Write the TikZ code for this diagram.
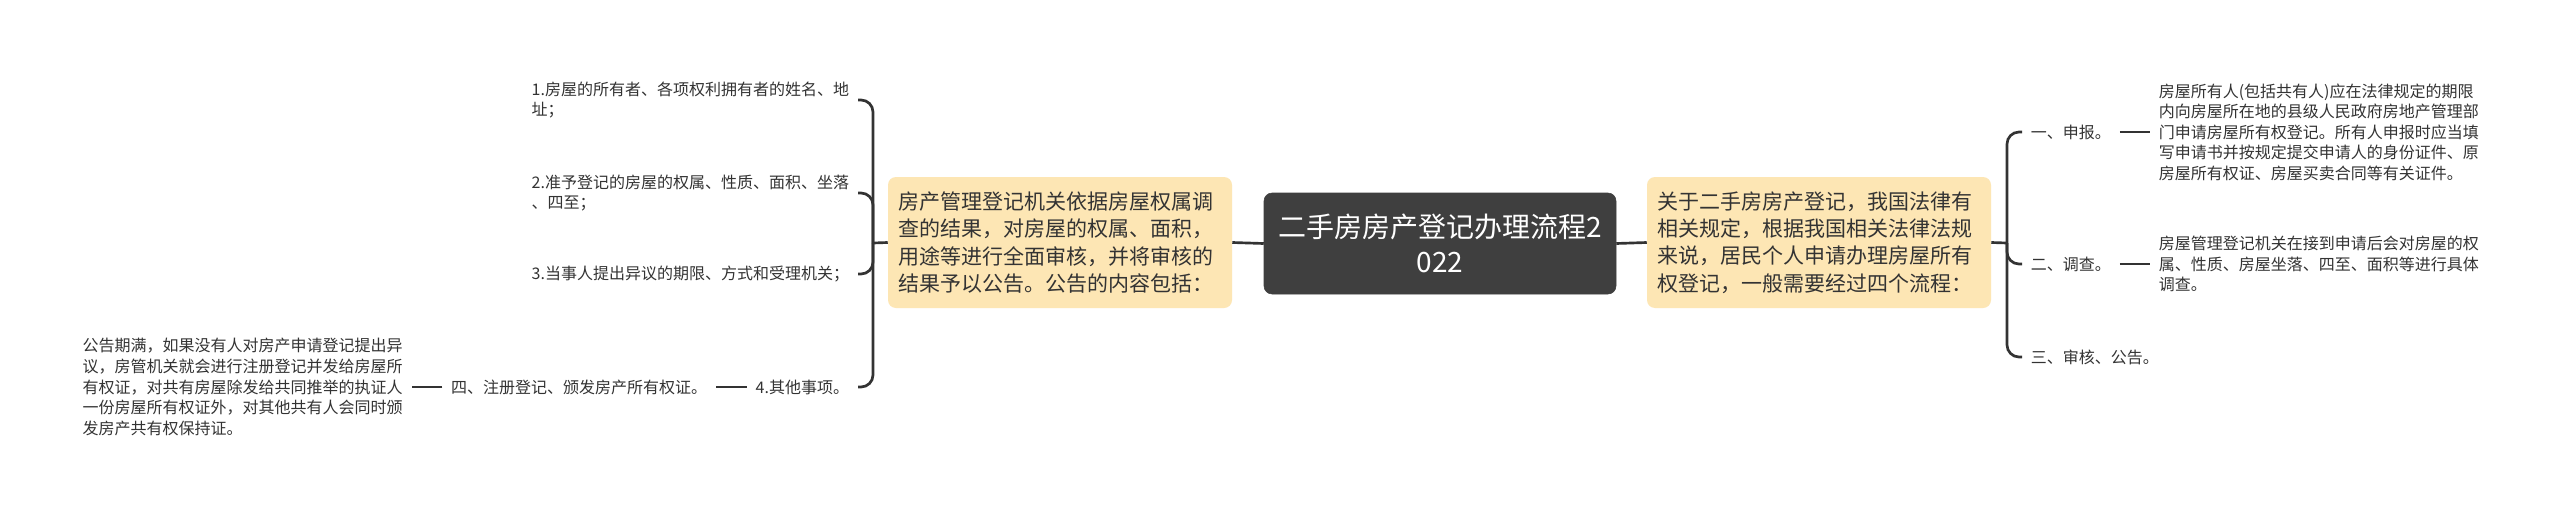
\documentclass[tikz,border=0pt]{standalone}
\usepackage{fontspec}
\newfontfamily\cjk{Noto Sans CJK SC}
\usetikzlibrary{calc}
\definecolor{darkbox}{HTML}{3F3F3F}
\definecolor{yel}{HTML}{FDE6B4}
\definecolor{ln}{HTML}{333333}
\definecolor{txt}{HTML}{333333}
\begin{document}
\begin{tikzpicture}[x=0.75pt,y=-0.75pt,
  leaf/.style={font=\cjk\fontsize{12}{15.4}\selectfont, text=txt, align=left, inner xsep=6.5pt, inner ysep=2pt},
  topic/.style={font=\cjk\fontsize{15.75}{20.6}\selectfont, text=txt, fill=yel, rounded corners=6pt, align=left, text width=243pt, inner xsep=7.5pt, minimum height=98.25pt},
  root/.style={font=\cjk\fontsize{21}{26.25}\selectfont, text=white, fill=darkbox, draw=darkbox, rounded corners=6pt, align=center, minimum width=264pt, minimum height=75.75pt},
  conn/.style={draw=ln, line width=2pt},
  br/.style={draw=ln, line width=2pt, rounded corners=9pt}
]
\useasboundingbox (0,0) rectangle (2560,518);
\fill[white] (0,0) rectangle (2560,518);

% root and topics
\node[root] (root) at (1440,243.5) {二手房房产登记办理流程2\\022};
\node[topic] (lt) at (1060,242.5) {房产管理登记机关依据房屋权属调\\查的结果，对房屋的权属、面积，\\用途等进行全面审核，并将审核的\\结果予以公告。公告的内容包括：};
\node[topic] (rt) at (1819,242.5) {关于二手房房产登记，我国法律有\\相关规定，根据我国相关法律法规\\来说，居民个人申请办理房屋所有\\权登记，一般需要经过四个流程：};
\draw[conn] (root.west) -- (lt.east);
\draw[conn] (root.east) -- (rt.west);

% junctions
\coordinate (jl) at (873,243);
\coordinate (jr) at (2007,243);
\draw[conn] (lt.west) -- (jl);
\draw[conn] (rt.east) -- (jr);

% left leaves
\node[leaf, anchor=east] (l1) at (858,100) {1.房屋的所有者、各项权利拥有者的姓名、地\\址；};
\node[leaf, anchor=east] (l2) at (858,193) {2.准予登记的房屋的权属、性质、面积、坐落\\、四至；};
\node[leaf, anchor=east] (l3) at (858,274) {3.当事人提出异议的期限、方式和受理机关；};
\node[leaf, anchor=east] (l4) at (858,387) {4.其他事项。};
\node[leaf, anchor=east] (l4a) at ([xshift=-23pt]l4.west) {四、注册登记、颁发房产所有权证。};
\node[leaf, anchor=east] (l4b) at ([xshift=-23pt]l4a.west) {公告期满，如果没有人对房产申请登记提出异\\议，房管机关就会进行注册登记并发给房屋所\\有权证，对共有房屋除发给共同推举的执证人\\一份房屋所有权证外，对其他共有人会同时颁\\发房产共有权保持证。};
\draw[br] (jl) |- (l1.east);
\draw[br] (jl) |- (l2.east);
\draw[br] (jl) |- (l3.east);
\draw[br] (jl) |- (l4.east);
\draw[conn] (l4.west) -- (l4a.east);
\draw[conn] (l4a.west) -- (l4b.east);

% right leaves
\node[leaf, anchor=west] (r1) at (2022,132) {一、申报。};
\node[leaf, anchor=west] (r1d) at ([xshift=22.5pt]r1.east) {房屋所有人(包括共有人)应在法律规定的期限\\内向房屋所在地的县级人民政府房地产管理部\\门申请房屋所有权登记。所有人申报时应当填\\写申请书并按规定提交申请人的身份证件、原\\房屋所有权证、房屋买卖合同等有关证件。};
\node[leaf, anchor=west] (r2) at (2022,264) {二、调查。};
\node[leaf, anchor=west] (r2d) at ([xshift=22.5pt]r2.east) {房屋管理登记机关在接到申请后会对房屋的权\\属、性质、房屋坐落、四至、面积等进行具体\\调查。};
\node[leaf, anchor=west] (r3) at (2022,357) {三、审核、公告。};
\draw[br] (jr) |- (r1.west);
\draw[br] (jr) |- (r2.west);
\draw[br] (jr) |- (r3.west);
\draw[conn] (r1.east) -- (r1d.west);
\draw[conn] (r2.east) -- (r2d.west);
\end{tikzpicture}
\end{document}
